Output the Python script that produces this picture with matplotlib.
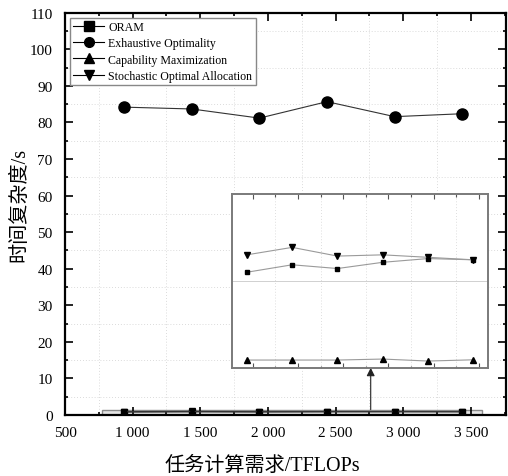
import matplotlib.pyplot as plt
from matplotlib.patches import Rectangle
from matplotlib.ticker import MultipleLocator

plt.rcParams['font.family'] = ['Liberation Serif', 'Noto Sans CJK SC']

# 任务计算需求 (TFLOPs) 与各方法的时间复杂度 (s)
demand = [937, 1437, 1937, 2437, 2937, 3437]
oram = [0.77, 0.83, 0.80, 0.85, 0.88, 0.87]
exhaustive = [84.2, 83.7, 81.2, 85.7, 81.6, 82.4]
capability = [0.064, 0.064, 0.064, 0.072, 0.056, 0.066]
stochastic = [0.91, 0.97, 0.90, 0.91, 0.89, 0.87]

xticks = [500, 1000, 1500, 2000, 2500, 3000, 3500]
xticklabels = ['500', '1 000', '1 500', '2 000', '2 500', '3 000', '3 500']

fig = plt.figure(figsize=(5.08, 4.77), dpi=100)
ax = fig.add_axes([0.128, 0.128, 0.868, 0.843])

ax.plot(demand, oram, color='#333333', lw=0.8, marker='s', ms=5, mfc='black', mec='black', label='ORAM')
ax.plot(demand, exhaustive, color='#333333', lw=0.8, marker='o', ms=8, mfc='black', mec='black', label='Exhaustive Optimality')
ax.plot(demand, capability, color='#333333', lw=0.8, marker='^', ms=5, mfc='black', mec='black', label='Capability Maximization')
ax.plot(demand, stochastic, color='#333333', lw=0.8, marker='v', ms=5, mfc='black', mec='black', label='Stochastic Optimal Allocation')

ax.set_xlim(500, 3760)
ax.set_ylim(0, 110)
ax.set_xticks(xticks)
ax.set_xticklabels(xticklabels)
ax.set_yticks(range(0, 111, 10))
ax.xaxis.set_minor_locator(MultipleLocator(250))
ax.yaxis.set_minor_locator(MultipleLocator(5))
ax.grid(which='minor', ls=(0, (1, 2.5)), color='#cfcfcf', lw=0.6)
ax.tick_params(which='both', direction='in', top=True, right=True, labelsize=11, width=1.2)
ax.tick_params(which='major', length=6)
ax.tick_params(which='minor', length=2.5)
ax.tick_params(axis='x', pad=8)
ax.tick_params(axis='y', pad=9)
for s in ax.spines.values():
    s.set_linewidth(1.6)

# 坐标轴标题
fig.text(0.516, 0.023, '任务计算需求/TFLOPs', fontsize=14.5, ha='center', va='center')
fig.text(0.040, 0.57, '时间复杂度/s', fontsize=14.5, ha='center', va='center', rotation=90)

leg = ax.legend(loc='upper left', fontsize=8.6, handlelength=2.6, borderaxespad=0.4,
                fancybox=False, edgecolor='#888888', framealpha=1, labelspacing=0.35,
                borderpad=0.3, handletextpad=0.3)
leg.get_frame().set_linewidth(1.0)
for h in leg.legend_handles:
    h.set_markersize(7)
    h.set_color('black')

# 放大区域框与指向箭头
ax.add_patch(Rectangle((770, 0), 3580 - 770, 1.45, facecolor='#e4e4e4', edgecolor='#8a8a8a', lw=1.0, zorder=1.5))
ax.annotate('', xy=(2760, 12.9), xytext=(2760, 1.45),
            arrowprops=dict(arrowstyle='-|>', color='#222222', lw=0.8, mutation_scale=12, shrinkA=0, shrinkB=0))

# 局部放大子图
ins = fig.add_axes([0.457, 0.2264, 0.504, 0.365])
ins.plot(demand, oram, color='#9a9a9a', lw=0.8, marker='s', ms=3.5, mfc='black', mec='black')
ins.plot(demand, capability, color='#9a9a9a', lw=0.8, marker='^', ms=4, mfc='black', mec='black')
ins.plot(demand, stochastic, color='#9a9a9a', lw=0.8, marker='v', ms=4, mfc='black', mec='black')
ins.set_xlim(775, 3600)
ins.set_ylim(0, 1.4)
ins.set_xticks(xticks[1:])
ins.set_xticklabels([])
ins.xaxis.set_minor_locator(MultipleLocator(250))
ins.set_yticks([])
ins.grid(which='minor', axis='x', ls=(0, (1, 2.5)), color='#d4d4d4', lw=0.6)
ins.axhline(0.7, color='#d0d0d0', lw=0.7, zorder=0)
ins.tick_params(which='both', direction='in', top=True, labelbottom=False, color='#555555')
ins.tick_params(which='major', length=3.5, width=0.8)
ins.tick_params(which='minor', length=1.8, width=0.8)
for s in ins.spines.values():
    s.set_linewidth(1.4)
    s.set_color('#7a7a7a')

fig.savefig('out.png', dpi=100)
